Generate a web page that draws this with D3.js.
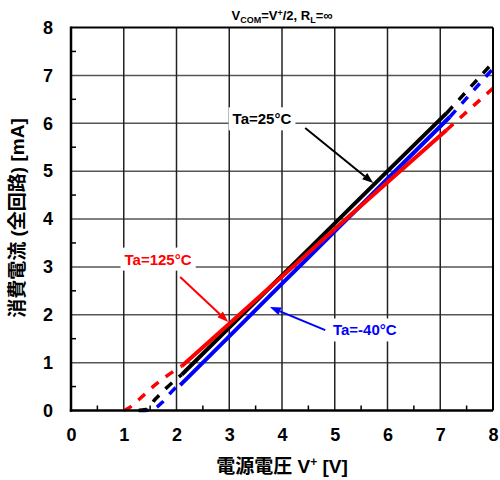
<!DOCTYPE html>
<html>
<head>
<meta charset="utf-8">
<script src="https://cdn.jsdelivr.net/npm/d3@7"></script>
<style>
  body { margin: 0; background: #fff; }
  text { font-family: "Liberation Sans", Arial, sans-serif; font-weight: bold; }
  .cjk { font-family: "Liberation Sans", "Noto Sans CJK JP", sans-serif; }
</style>
</head>
<body>
<svg id="chart" width="500" height="480"></svg>
<script>
// Axis ticks
const xTicks = [0, 1, 2, 3, 4, 5, 6, 7, 8];
const yTicks = [0, 1, 2, 3, 4, 5, 6, 7, 8];
const xMinor = [0.5, 1.5, 2.5, 3.5, 4.5, 5.5, 6.5, 7.5];
const yMinor = [0.5, 1.5, 2.5, 3.5, 4.5, 5.5, 6.5, 7.5];

// Supply current vs supply voltage, per ambient temperature
const v125 = [1.0, 1.12, 1.3, 1.6, 2.0, 2.1, 3.0, 4.0, 5.0, 6.0, 7.12, 8.0];
const i125 = [0.0, 0.07, 0.24, 0.54, 0.86, 0.93, 1.81, 2.80, 3.79, 4.77, 5.86, 6.73];
const range125 = [2.1, 7.12];

const v25 = [1.28, 1.42, 1.6, 2.0, 2.1, 3.0, 4.0, 5.0, 6.0, 7.12, 8.0];
const i25 = [0.0, 0.02, 0.24, 0.66, 0.75, 1.73, 2.82, 3.91, 5.0, 6.21, 7.27];
const range25 = [2.1, 7.12];

const vM40 = [1.3, 1.5, 1.6, 1.72, 1.88, 2.0, 2.07, 3.0, 4.0, 5.0, 6.0, 7.18, 8.0];
const iM40 = [0.0, 0.01, 0.05, 0.16, 0.36, 0.49, 0.53, 1.55, 2.65, 3.74, 4.84, 6.13, 7.14];
const rangeM40 = [2.07, 7.18];

const seriesNames = ["Ta=-40°C", "Ta=125°C", "Ta=25°C"];
const seriesColors = ["#0000ff", "#ff0000", "#000000"];

const svg = d3.select("#chart");
const x = d3.scaleLinear().domain([0, 8]).range([71, 493]);
const y = d3.scaleLinear().domain([0, 8]).range([410.5, 27.5]);

// Grid
const grid = svg.append("g");
grid.selectAll("line.h").data(yTicks.slice(1, -1)).join("line")
  .attr("x1", x(0)).attr("x2", x(8))
  .attr("y1", d => y(d)).attr("y2", d => y(d))
  .attr("stroke", "#555").attr("stroke-width", 1.5);
grid.selectAll("line.v").data(xTicks.slice(1, -1)).join("line")
  .attr("y1", y(0)).attr("y2", y(8))
  .attr("x1", d => x(d)).attr("x2", d => x(d))
  .attr("stroke", "#222").attr("stroke-width", 1.5);

// Minor ticks (inward)
svg.append("g").selectAll("line").data(xMinor).join("line")
  .attr("x1", d => x(d)).attr("x2", d => x(d))
  .attr("y1", y(0)).attr("y2", y(0) - 5)
  .attr("stroke", "#000").attr("stroke-width", 1.5);
svg.append("g").selectAll("line").data(yMinor).join("line")
  .attr("y1", d => y(d)).attr("y2", d => y(d))
  .attr("x1", x(0)).attr("x2", x(0) + 5)
  .attr("stroke", "#000").attr("stroke-width", 1.5);

// Curves
const lineGen = d3.line().x(d => x(d[0])).y(d => y(d[1])).curve(d3.curveMonotoneX);
function drawSeries(vs, is, range, color) {
  const pts = vs.map((v, k) => [v, is[k]]);
  const lower = pts.filter(p => p[0] <= range[0]);
  const mid = pts.filter(p => p[0] >= range[0] && p[0] <= range[1]);
  const upper = pts.filter(p => p[0] >= range[1]);
  const g = svg.append("g").attr("fill", "none").attr("stroke", color);
  g.append("path").attr("d", lineGen(lower)).attr("stroke-width", 3.5).attr("stroke-dasharray", "9 9");
  g.append("path").attr("d", lineGen(mid)).attr("stroke-width", 4);
  g.append("path").attr("d", lineGen(upper)).attr("stroke-width", 3.5).attr("stroke-dasharray", "9 9");
}
drawSeries(vM40, iM40, rangeM40, seriesColors[0]);
drawSeries(v25, i25, range25, seriesColors[2]);
drawSeries(v125, i125, range125, seriesColors[1]);

// Frame
svg.append("line").attr("x1", x(0)).attr("x2", x(8)).attr("y1", y(8)).attr("y2", y(8)).attr("stroke", "#000").attr("stroke-width", 2);
svg.append("line").attr("x1", x(8)).attr("x2", x(8)).attr("y1", y(0)).attr("y2", y(8)).attr("stroke", "#000").attr("stroke-width", 2);
svg.append("line").attr("x1", x(0)).attr("x2", x(0)).attr("y1", y(0) + 1.2).attr("y2", y(8) - 1).attr("stroke", "#000").attr("stroke-width", 2.5);
svg.append("line").attr("x1", x(0) - 1.2).attr("x2", x(8)).attr("y1", y(0)).attr("y2", y(0)).attr("stroke", "#000").attr("stroke-width", 2.5);

// Axes labels
const xAxis = svg.append("g").attr("transform", `translate(0,${y(0)})`)
  .call(d3.axisBottom(x).tickValues(xTicks).tickSize(0).tickPadding(18).tickFormat(d3.format("d")));
const yAxis = svg.append("g").attr("transform", `translate(${x(0)},0)`)
  .call(d3.axisLeft(y).tickValues(yTicks).tickSize(0).tickPadding(18).tickFormat(d3.format("d")));
[xAxis, yAxis].forEach(a => {
  a.select(".domain").remove();
  a.selectAll("text").attr("font-size", 18).attr("font-family", "Liberation Sans, Arial, sans-serif")
    .attr("font-weight", "bold").attr("fill", "#000");
});

// Annotations with white boxes and arrows
function arrow(x1, y1, x2, y2, color) {
  const px1 = x(x1), py1 = y(y1), px2 = x(x2), py2 = y(y2);
  const ang = Math.atan2(py2 - py1, px2 - px1);
  const L = 11, W = 4;
  const bx = px2 - L * Math.cos(ang), by = py2 - L * Math.sin(ang);
  svg.append("line").attr("x1", px1).attr("y1", py1).attr("x2", bx).attr("y2", by)
    .attr("stroke", color).attr("stroke-width", 2);
  svg.append("path")
    .attr("d", `M${px2},${py2}L${bx + W * Math.sin(ang)},${by - W * Math.cos(ang)}L${bx - W * Math.sin(ang)},${by + W * Math.cos(ang)}Z`)
    .attr("fill", color);
}
function label(txt, cx, cy, color) {
  const g = svg.append("g");
  const r = g.append("rect").attr("fill", "#fff");
  const t = g.append("text").attr("x", x(cx)).attr("y", y(cy)).attr("dy", "0.36em")
    .attr("text-anchor", "middle").attr("font-size", 15).attr("fill", color).text(txt);
  const b = t.node().getBBox();
  r.attr("x", b.x - 4).attr("y", b.y - 3).attr("width", b.width + 8).attr("height", b.height + 6);
}
label(seriesNames[2], 3.62, 6.09, seriesColors[2]);
arrow(4.44, 5.90, 5.73, 4.75, seriesColors[2]);
label(seriesNames[1], 1.65, 3.16, seriesColors[1]);
arrow(2.07, 2.79, 2.98, 1.85, seriesColors[1]);
label(seriesNames[0], 5.57, 1.68, seriesColors[0]);
arrow(4.82, 1.68, 3.77, 2.16, seriesColors[0]);

// Title
const title = svg.append("text").attr("x", 282).attr("y", 20).attr("text-anchor", "middle").attr("font-size", 13);
title.append("tspan").text("V");
title.append("tspan").attr("font-size", 9).attr("dy", 3).text("COM");
title.append("tspan").attr("dy", -3).text("=V");
title.append("tspan").attr("font-size", 9).attr("dy", -4).text("+");
title.append("tspan").attr("dy", 4).text("/2, R");
title.append("tspan").attr("font-size", 9).attr("dy", 3).text("L");
title.append("tspan").attr("dy", -3).text("=∞");

// Axis titles
const xt = svg.append("text").attr("class", "cjk").attr("x", 282).attr("y", 473)
  .attr("text-anchor", "middle").attr("font-size", 19);
xt.append("tspan").text("電源電圧 V");
xt.append("tspan").attr("font-size", 12).attr("dy", -7).text("+");
xt.append("tspan").attr("dy", 7).text(" [V]");

svg.append("text").attr("class", "cjk")
  .attr("transform", "translate(24,218) rotate(-90)")
  .attr("text-anchor", "middle").attr("font-size", 19)
  .text("消費電流 (全回路) [mA]");
</script>
</body>
</html>
